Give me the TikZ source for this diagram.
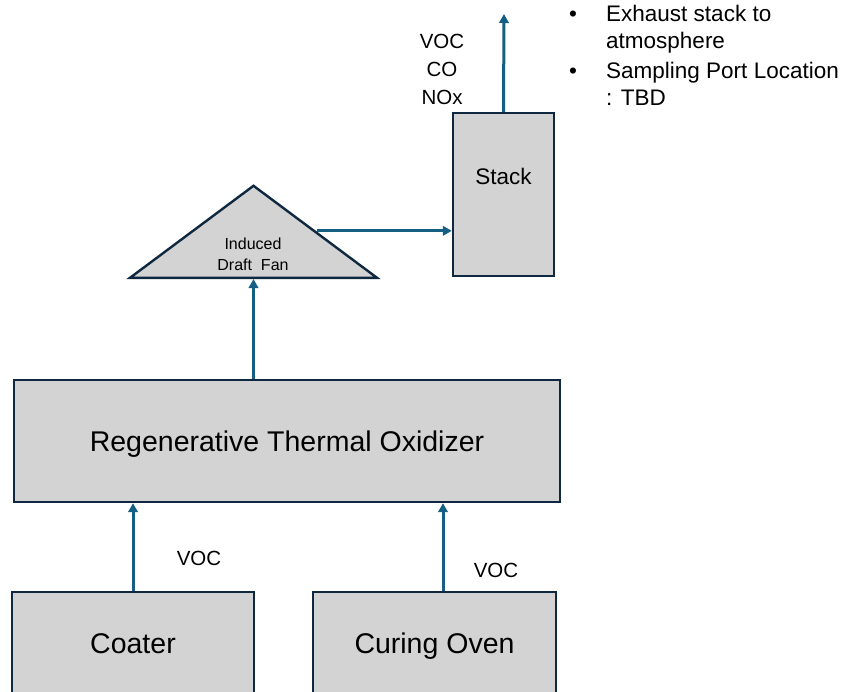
\documentclass[tikz,border=0pt]{standalone}
\usepackage{fontspec}
\setmainfont{Liberation Sans}
\usepackage{xcolor}
\usetikzlibrary{arrows.meta,shapes.geometric}

\definecolor{boxline}{HTML}{0E2841}
\definecolor{flowblue}{HTML}{156082}
\definecolor{boxfill}{HTML}{D3D3D3}

\tikzset{
    unit/.style={draw=boxline, line width=2.4pt, fill=boxfill, inner sep=0pt},
    bigunit/.style={unit, text height=20.5pt, text depth=0pt, font=\fontsize{28.5}{34}\selectfont},
    flow/.style={draw=flowblue, line width=3pt, -{Triangle[length=9pt,width=9.5pt]}},
    gas/.style={inner sep=0pt, align=center, font=\fontsize{20.5}{28}\selectfont}
}

\begin{document}
\begin{tikzpicture}[x=1pt, y=-1pt]
    \path[use as bounding box] (0,0) rectangle (849,691);
    \clip (0,0) rectangle (849,691);

    % process units
    \node[bigunit, minimum width=546pt, minimum height=122pt] (rto) at (287,441) {Regenerative Thermal Oxidizer};
    \node[bigunit, minimum width=242pt, minimum height=102pt] (coater) at (133,643) {Coater};
    \node[bigunit, minimum width=243pt, minimum height=102pt] (oven) at (434.5,643) {Curing Oven};
    \node[unit, anchor=base, minimum width=101pt, text height=71pt, text depth=92pt, font=\fontsize{22.5}{26}\selectfont] (stack) at (503.5,184) {Stack};
    \node[unit, isosceles triangle, isosceles triangle stretches, shape border rotate=90,
          minimum width=247pt, minimum height=92pt, anchor=lower side] (fan) at (253.5,279) {};
    \node[inner sep=0pt, align=center, font=\fontsize{16}{21}\selectfont] (fanlabel) at (253,254) {Induced\\Draft~~Fan};

    % gas streams
    \draw[flow] (coater.north) -- (coater.north |- rto.south);
    \draw[flow] ([xshift=8.5pt]oven.north) -- ([xshift=8.5pt]oven.north |- rto.south);
    \draw[flow] (rto.north -| fan.lower side) -- (fan.lower side);
    \draw[flow] (fan.right side) -- (fan.right side -| stack.west);
    \coordinate (outlet) at (504,14);
    \draw[flow] (stack.north) -- (outlet);

    \node[gas] (coatervoc) at (199,558) {VOC};
    \node[gas] (ovenvoc) at (496,570) {VOC};
    \node[gas, anchor=north] (stackgas) at (442,34) {VOC\\CO\\NOx};

    \node[anchor=north west, inner sep=0pt, font=\fontsize{22.5}{27}\selectfont] (notes) at (569,2) {%
        \begin{tabular}{@{}p{37pt}@{}l@{}}
            \textbullet & Exhaust stack to\\
                        & atmosphere\\[3pt]
            \textbullet & Sampling Port Location\\
                        & : TBD
        \end{tabular}};
\end{tikzpicture}
\end{document}
